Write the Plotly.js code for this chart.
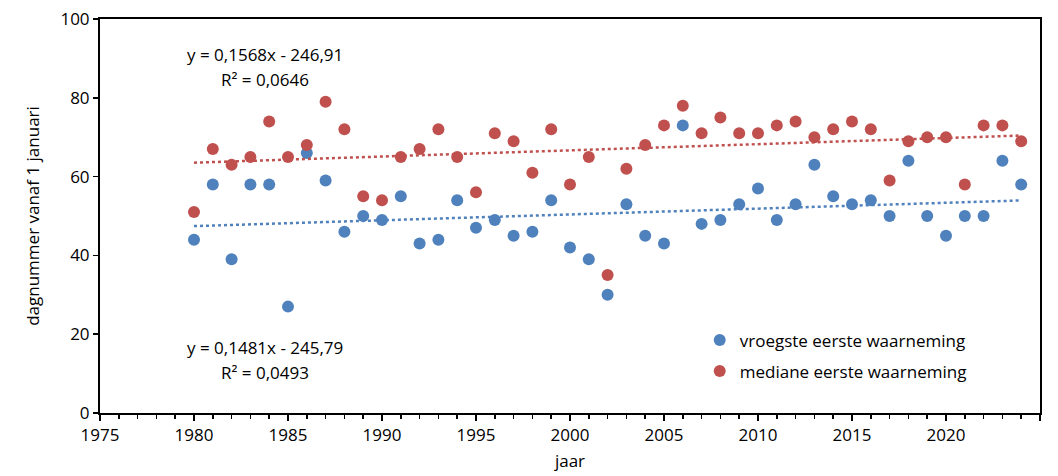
<!DOCTYPE html>
<html>
<head>
<meta charset="utf-8">
<script src="https://cdn.plot.ly/plotly-3.0.1.min.js"></script>
<style>
  body { margin: 0; background: #fff; }
  #chart { width: 1058px; height: 476px; }
</style>
</head>
<body>
<div id="chart"></div>
<script>
// jaren en dagnummers
var years = [1980, 1981, 1982, 1983, 1984, 1985, 1986, 1987, 1988, 1989,
             1990, 1991, 1992, 1993, 1994, 1995, 1996, 1997, 1998, 1999,
             2000, 2001, 2002, 2003, 2004, 2005, 2006, 2007, 2008, 2009,
             2010, 2011, 2012, 2013, 2014, 2015, 2016, 2017, 2018, 2019,
             2020, 2021, 2022, 2023, 2024];
var earliest = [44, 58, 39, 58, 58, 27, 66, 59, 46, 50,
                49, 55, 43, 44, 54, 47, 49, 45, 46, 54,
                42, 39, 30, 53, 45, 43, 73, 48, 49, 53,
                57, 49, 53, 63, 55, 53, 54, 50, 64, 50,
                45, 50, 50, 64, 58];
var median = [51, 67, 63, 65, 74, 65, 68, 79, 72, 55,
              54, 65, 67, 72, 65, 56, 71, 69, 61, 72,
              58, 65, 35, 62, 68, 73, 78, 71, 75, 71,
              71, 73, 74, 70, 72, 74, 72, 59, 69, 70,
              70, 58, 73, 73, 69];

var names = ["vroegste eerste waarneming", "mediane eerste waarneming"];
var equations = ["y = 0,1481x - 245,79", "y = 0,1568x - 246,91"];
var rSquared = ["R\u00b2 = 0,0493", "R\u00b2 = 0,0646"];

var blue = "#4f81bd";
var red = "#c0504d";

// lineaire trendlijn (kleinste kwadraten) over de data
function fit(xs, ys) {
  var n = xs.length, sx = 0, sy = 0, sxx = 0, sxy = 0;
  for (let i = 0; i < n; i++) {
    sx += xs[i]; sy += ys[i]; sxx += xs[i] * xs[i]; sxy += xs[i] * ys[i];
  }
  var b = (n * sxy - sx * sy) / (n * sxx - sx * sx);
  var a = (sy - b * sx) / n;
  return xs.map(function (x) { return a + b * x; });
}

var font = "'Open Sans', 'Liberation Sans', sans-serif";

var traces = [
  {
    x: years, y: earliest, name: names[0], type: "scatter", mode: "markers",
    marker: { color: blue, size: 12 }, legendgroup: "a"
  },
  {
    x: years, y: median, name: names[1], type: "scatter", mode: "markers",
    marker: { color: red, size: 12 }, legendgroup: "b"
  },
  {
    x: years, y: fit(years, earliest), type: "scatter", mode: "lines",
    line: { color: blue, width: 2.5, dash: "dot" }, showlegend: false, hoverinfo: "skip"
  },
  {
    x: years, y: fit(years, median), type: "scatter", mode: "lines",
    line: { color: red, width: 2.5, dash: "dot" }, showlegend: false, hoverinfo: "skip"
  }
];

function note(text, x, y) {
  return { text: text, x: x, y: y, xref: "x", yref: "y", showarrow: false,
           xanchor: "center", yanchor: "middle", font: { size: 17, color: "#000" } };
}

var layout = {
  width: 1058, height: 476,
  margin: { l: 100, r: 18, t: 19, b: 63 },
  paper_bgcolor: "#fff", plot_bgcolor: "#fff",
  font: { family: font, size: 17, color: "#000" },
  showlegend: true,
  legend: {
    x: 0.638, y: 0.23, xanchor: "left", yanchor: "top",
    traceorder: "grouped", tracegroupgap: 6,
    font: { size: 17 }, bgcolor: "rgba(0,0,0,0)"
  },
  xaxis: {
    range: [1975, 2025], dtick: 5, tick0: 1975,
    showgrid: false, zeroline: false,
    showline: true, linecolor: "#000", linewidth: 2, mirror: true,
    ticks: "outside", ticklen: 6, tickwidth: 1.5, tickcolor: "#000",
    minor: { dtick: 1, ticks: "outside", ticklen: 4, tickwidth: 1.5, tickcolor: "#000" },
    title: { text: "jaar", font: { size: 17 }, standoff: 10 }
  },
  yaxis: {
    range: [0, 100], dtick: 20,
    showgrid: false, zeroline: false,
    showline: true, linecolor: "#000", linewidth: 2, mirror: true,
    ticks: "outside", ticklen: 5, tickwidth: 1.5, tickcolor: "#000",
    title: { text: "dagnummer vanaf 1 januari", font: { size: 17 }, standoff: 16 }
  },
  annotations: [
    note(equations[1], 1983.8, 90.9),
    note(rSquared[1], 1983.8, 84.6),
    note(equations[0], 1983.8, 16.7),
    note(rSquared[0], 1983.8, 10.2)
  ]
};

Plotly.newPlot("chart", traces, layout, { staticPlot: true });
</script>
</body>
</html>
